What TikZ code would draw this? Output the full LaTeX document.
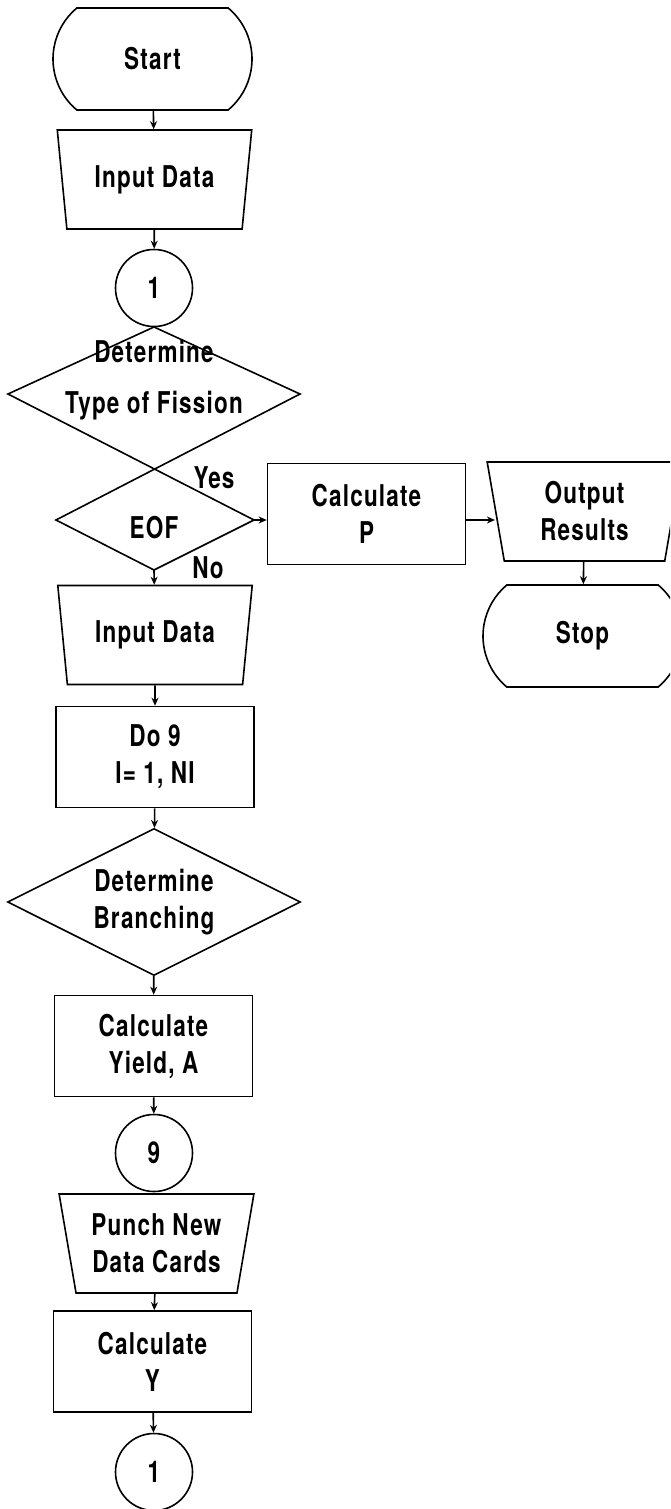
\documentclass[tikz,border=0pt]{standalone}
\usepackage{fontspec}
\setmainfont{TeX Gyre Heros}[FakeStretch=0.75,LetterSpace=4]
\usetikzlibrary{shapes.geometric, shapes.misc, arrows.meta, calc}

\tikzset{
  every node/.style={font=\fontsize{15}{18.5}\selectfont\bfseries, align=center},
  termbox/.style={draw, rounded rectangle, rounded rectangle arc length=100,
    minimum width=99.5pt, minimum height=51pt, inner sep=0pt},
  iobox/.style={draw, trapezium, shape border rotate=180, trapezium left angle=77,
    trapezium right angle=77, trapezium stretches=true,
    minimum width=97.5pt, minimum height=49.5pt, inner sep=0pt},
  procbox/.style={draw, rectangle, minimum width=99pt, minimum height=50.5pt, inner sep=0pt},
  decision/.style={draw, diamond, aspect=2, minimum width=146.5pt, minimum height=73.5pt, inner sep=0pt},
  connector/.style={draw, circle, minimum size=38.5pt, inner sep=0pt},
  flow/.style={-{Stealth[length=4pt,width=3.5pt]}}
}

\begin{document}
\begin{tikzpicture}[x=0.5pt, y=-0.5pt, line width=0.8pt]
\useasboundingbox (0,0) rectangle (670,1509);
\clip (0,0) rectangle (670,1509);

% main column
\node[termbox] (start) at (152.5,59) {Start};
\node[iobox] (in1) at (154.5,179.5) {Input Data};
\node[connector] (c1) at (154,288) {1};

% fission type and EOF test, drawn as one crossed outline
\coordinate (fisT) at (154,327);
\coordinate (fisL) at (8,394);
\coordinate (fisR) at (300,394);
\coordinate (eofL) at (56,520);
\coordinate (eofR) at (254,520);
\coordinate (eofB) at (154,570);
\draw (fisL) -- (fisT) -- (fisR) -- (eofL) -- (eofB) -- (eofR) -- cycle;
\node (fis) at (154,380) {Determine\\[7pt]Type of Fission};
\node (eof) at (154,528) {EOF};
\node (yes) at (214,478) {Yes};
\node (no) at (208,568) {No};

% EOF branch
\node[procbox] (calcP) at (366.5,514) {Calculate\\P};
\node[iobox, trapezium left angle=81, trapezium right angle=81] (output) at (584.5,511.5) {Output\\Results};
\node[termbox] (stop) at (582.5,636) {Stop};

% loop over I
\node[iobox] (in2) at (155,635) {Input Data};
\node[procbox] (do9) at (155,757) {Do 9\\I= 1, NI};
\node[decision] (branch) at (154,902) {Determine\\Branching};
\node[procbox] (yield) at (153.5,1046) {Calculate\\Yield, A};
\node[connector] (c9) at (154,1153) {9};
\node[iobox] (punch) at (156.5,1243.5) {Punch New\\Data Cards};
\node[procbox] (calcY) at (152.5,1361.5) {Calculate\\Y};
\node[connector] (c1b) at (154,1472) {1};

% connectors
\draw[flow] (start) -- (in1);
\draw[flow] (in1) -- (c1);
\draw[flow] (eofR) -- (eofR -| calcP.west);
\draw[flow] (calcP.east |- eofR) -- (output.west |- eofR);
\draw[flow] (output) -- (stop);
\draw[flow] (eofB) -- (in2);
\draw[flow] (in2) -- (do9);
\draw[flow] (do9) -- (branch);
\draw[flow] (branch) -- (yield);
\draw[flow] (yield) -- (c9);
\draw[flow] (punch) -- (calcY);
\draw[flow] (calcY) -- (c1b);
\end{tikzpicture}
\end{document}
